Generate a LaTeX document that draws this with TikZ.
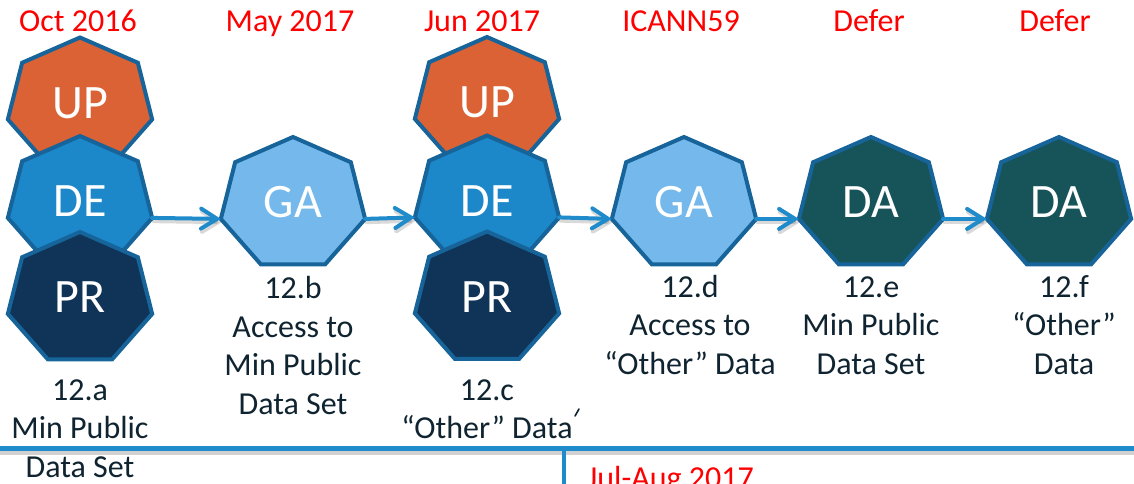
\documentclass[tikz,border=0pt]{standalone}
\usepackage{fontspec}
\setmainfont{Carlito}
\usetikzlibrary{arrows.meta}
\definecolor{upc}{HTML}{DA6234}
\definecolor{dec}{HTML}{1C87C9}
\definecolor{prc}{HTML}{0F3457}
\definecolor{gac}{HTML}{74B8EC}
\definecolor{dac}{HTML}{17545A}
\definecolor{edgec}{HTML}{16649A}
\definecolor{arrc}{HTML}{1F8BCB}
\definecolor{txtc}{HTML}{0F2430}
\definecolor{hdrc}{HTML}{FF0000}
\tikzset{
  hepshape/.style={draw=edgec, line width=4pt, line join=miter},
  heptext/.style={text=white, font=\fontsize{48}{58}\selectfont, inner sep=0pt},
  lbl/.style={text=txtc, font=\fontsize{32}{38.5}\selectfont, align=center, anchor=base, inner sep=0pt},
  hdrtxt/.style={text=hdrc, font=\fontsize{32}{38}\selectfont, anchor=base, inner sep=0pt},
  arr/.style={draw=arrc, line width=4pt, line cap=round, -{Straight Barb[length=16pt,width=20pt,line cap=round]}},
  arrshadow/.style={draw=black, opacity=0.15, line width=4.5pt, line cap=round, -{Straight Barb[length=16pt,width=20pt,line cap=round]}},
  rule/.style={draw=arrc, line width=4.5pt},
  ruleshadow/.style={draw=black, opacity=0.18, line width=4pt},
}
\newcommand\heptnode[5]{%
  \filldraw[hepshape, fill=#4, shift={(#2,#3)}] (0,-67) -- (-57.85,-41.77) -- (-72.14,14.91) -- (-32.11,60.37) -- (32.11,60.37) -- (72.14,14.91) -- (57.85,-41.77) -- cycle;
  \node[heptext] (#1) at (#2,#3-1.5) {#5};
  \coordinate (#1-l) at (#2-72.14,#3+14.91);
  \coordinate (#1-r) at (#2+72.14,#3+14.91);
}
\begin{document}
\begin{tikzpicture}[x=1pt,y=-1pt]
\useasboundingbox[fill=white] (0,0) rectangle (1134,483);
% headers
\node[hdrtxt] (h1) at (78,31) {Oct 2016};
\node[hdrtxt] (h2) at (290,31) {May 2017};
\node[hdrtxt] (h3) at (482,31) {Jun 2017};
\node[hdrtxt] (h4) at (681,31) {ICANN59};
\node[hdrtxt] (h5) at (869,31) {Defer};
\node[hdrtxt] (h6) at (1055,31) {Defer};
% heptagons
\heptnode{up1}{80}{104.5}{upc}{UP}
\heptnode{de1}{80}{203}{dec}{DE}
\heptnode{pr1}{80}{299}{prc}{PR}
\heptnode{ga2}{293}{204}{gac}{GA}
\heptnode{up3}{487}{104}{upc}{UP}
\heptnode{de3}{487}{202.5}{dec}{DE}
\heptnode{pr3}{487}{298.5}{prc}{PR}
\heptnode{ga4}{684}{204}{gac}{GA}
\heptnode{da5}{871}{204}{dac}{DA}
\heptnode{da6}{1059}{204}{dac}{DA}
% arrows
\foreach \a/\b in {de1/ga2, ga2/de3, de3/ga4, ga4/da5, da5/da6}{
  \draw[arrshadow, transform canvas={shift={(1.5pt,-3pt)}}] (\a-r) -- (\b-l);
  \draw[arr] (\a-r) -- (\b-l);
}
% labels (anchor = baseline of the last line)
\node[lbl] (l1) at (80,477) {12.a\\Min Public\\Data Set};
\node[lbl] (l2) at (293,414) {12.b\\Access to\\Min Public\\Data Set};
\node[lbl] (l3) at (487,438.5) {12.c\\“Other” Data};
\node[lbl] (l4) at (690,374) {12.d\\Access to\\“Other” Data};
\node[lbl] (l5) at (871,374) {12.e\\Min Public\\Data Set};
\node[lbl] (l6) at (1064,374) {12.f\\“Other”\\Data};
\draw[txtc, line width=1.6pt, line cap=round] (575,416) -- (579,409);
% timeline rules
\coordinate (rl) at (0,448.5);
\coordinate (rr) at (1134,448.5);
\coordinate (vt) at (564,448.5);
\coordinate (vb) at (564,490);
\draw[ruleshadow] (0,453) -- (1134,453);
\draw[rule] (rl) -- (rr);
\draw[rule] (vt) -- (vb);
\node[hdrtxt, anchor=base west] (h7) at (587,488.5) {Jul-Aug 2017};
\end{tikzpicture}
\end{document}
